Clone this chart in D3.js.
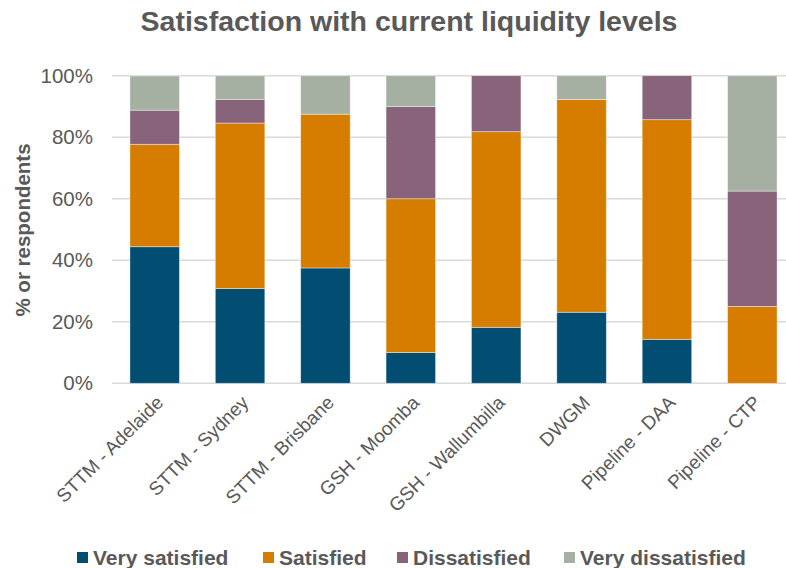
<!DOCTYPE html>
<html>
<head>
<meta charset="utf-8">
<script src="https://cdn.jsdelivr.net/npm/d3@7"></script>
<style>
  body { margin: 0; background: #fff; }
  text { font-family: "Liberation Sans", Arial, sans-serif; fill: #595959; }
</style>
</head>
<body>
<svg id="chart" width="786" height="568"></svg>
<script>
// Chart data
const categories = ['STTM - Adelaide', 'STTM - Sydney', 'STTM - Brisbane', 'GSH - Moomba',
    'GSH - Wallumbilla', 'DWGM', 'Pipeline - DAA', 'Pipeline - CTP'];
const seriesNames = ['Very satisfied', 'Satisfied', 'Dissatisfied', 'Very dissatisfied'];
const verySatisfied = [44.4, 30.8, 37.5, 10, 18.2, 23.1, 14.3, 0];
const satisfied = [33.3, 53.8, 50, 50, 63.6, 69.2, 71.4, 25];
const dissatisfied = [11.1, 7.7, 0, 30, 18.2, 0, 14.3, 37.5];
const veryDissatisfied = [11.1, 7.7, 12.5, 10, 0, 7.7, 0, 37.5];
const yTicks = [0, 20, 40, 60, 80, 100];

const colors = ['#024E72', '#D67D00', '#876479', '#A5B0A2'];

const svg = d3.select('#chart');
const width = 786, height = 568;

// build table for stacking
const table = categories.map((c, i) => ({
    category: c,
    'Very satisfied': verySatisfied[i],
    'Satisfied': satisfied[i],
    'Dissatisfied': dissatisfied[i],
    'Very dissatisfied': veryDissatisfied[i]
}));
const stacked = d3.stack().keys(seriesNames)(table);

const x = d3.scaleBand()
    .domain(categories)
    .range([112, 795])
    .paddingInner(0.42)
    .paddingOuter(0.21);

const y = d3.scaleLinear()
    .domain([0, 100])
    .range([383.3, 75.7]);

// Title
svg.append('text')
    .attr('x', 409)
    .attr('y', 31)
    .attr('text-anchor', 'middle')
    .style('font-size', '28.5px')
    .style('font-weight', 'bold')
    .text('Satisfaction with current liquidity levels');

// Gridlines
svg.append('g')
    .selectAll('line')
    .data(yTicks)
    .enter().append('line')
    .attr('x1', 112)
    .attr('x2', width)
    .attr('y1', d => y(d))
    .attr('y2', d => y(d))
    .attr('stroke', '#D9D9D9')
    .attr('stroke-width', 1.5);

// Y axis labels
const yAxis = svg.append('g')
    .attr('transform', 'translate(112,0)')
    .call(d3.axisLeft(y).tickValues(yTicks).tickFormat(d => d + '%').tickSize(0).tickPadding(19));
yAxis.select('.domain').remove();
yAxis.selectAll('text')
    .style('font-size', '20.5px')
    .style('font-family', '"Liberation Sans", Arial, sans-serif')
    .attr('fill', '#595959');

// Y title
svg.append('text')
    .attr('transform', 'translate(30, 230) rotate(-90)')
    .attr('text-anchor', 'middle')
    .style('font-size', '20.5px')
    .style('font-weight', 'bold')
    .text('% or respondents');

// Bars
const layer = svg.append('g')
    .selectAll('g')
    .data(stacked)
    .enter().append('g')
    .attr('fill', (d, i) => colors[i]);

layer.selectAll('rect')
    .data(d => d)
    .enter().append('rect')
    .attr('x', d => x(d.data.category))
    .attr('width', x.bandwidth())
    .attr('y', d => y(d[1]))
    .attr('height', d => y(d[0]) - y(d[1]))
    .attr('stroke', '#ffffff')
    .attr('stroke-opacity', 0.5)
    .attr('stroke-width', 0.8);

// X labels
svg.append('g')
    .selectAll('text')
    .data(categories)
    .enter().append('text')
    .attr('transform', d => `translate(${x(d) + x.bandwidth() / 2 + 5}, 399) rotate(-45)`)
    .attr('text-anchor', 'end')
    .attr('dy', '0.35em')
    .style('font-size', '19px')
    .text(d => d);

// Legend
const legendX = [77, 263, 397, 564];
const legend = svg.append('g')
    .selectAll('g')
    .data(seriesNames)
    .enter().append('g')
    .attr('transform', (d, i) => `translate(${legendX[i]}, 552)`);

legend.append('rect')
    .attr('width', 11)
    .attr('height', 11)
    .attr('fill', (d, i) => colors[i]);

legend.append('text')
    .attr('x', 16)
    .attr('y', 13)
    .style('font-size', '21px')
    .style('font-weight', 'bold')
    .text(d => d);
</script>
</body>
</html>
